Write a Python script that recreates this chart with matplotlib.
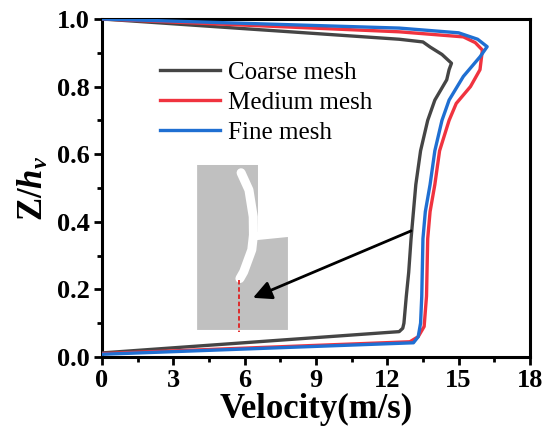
import matplotlib
matplotlib.use("Agg")
import matplotlib.pyplot as plt
from matplotlib.patches import Polygon
from matplotlib.ticker import MultipleLocator

# velocity profiles (m/s) vs normalised height Z/h_v
coarse_v = [0, 12.5, 13.5, 13.8, 14.3, 14.7, 14.6, 14.5, 14.0, 13.7, 13.4, 13.2, 13.1, 13.0, 12.9, 12.8, 12.7, 12.65, 12.5, 0]
coarse_z = [1.0, 0.94, 0.932, 0.917, 0.895, 0.869, 0.85, 0.82, 0.76, 0.70, 0.61, 0.51, 0.43, 0.35, 0.25, 0.18, 0.10, 0.085, 0.075, 0.012]

medium_v = [0, 12.5, 15.2, 15.7, 16.0, 15.9, 15.5, 14.9, 14.6, 14.2, 14.0, 13.8, 13.7, 13.65, 13.55, 13.3, 12.95, 0]
medium_z = [1.0, 0.962, 0.947, 0.93, 0.908, 0.85, 0.80, 0.75, 0.70, 0.61, 0.51, 0.43, 0.35, 0.18, 0.09, 0.06, 0.045, 0.01]

fine_v = [0, 12.5, 15.0, 15.8, 16.2, 15.9, 15.2, 14.6, 14.3, 14.0, 13.8, 13.6, 13.5, 13.45, 13.4, 13.3, 13.1, 0]
fine_z = [1.0, 0.973, 0.959, 0.94, 0.918, 0.888, 0.83, 0.76, 0.70, 0.61, 0.51, 0.43, 0.35, 0.18, 0.10, 0.06, 0.042, 0.008]

labels = ["Coarse mesh", "Medium mesh", "Fine mesh"]
colors = ["#454545", "#f0333f", "#1f6fd2"]

plt.rcParams["font.family"] = ["Liberation Serif", "DejaVu Serif"]
plt.rcParams["mathtext.fontset"] = "custom"
plt.rcParams["mathtext.rm"] = "Liberation Serif:bold"
plt.rcParams["mathtext.it"] = "Liberation Serif:bold:italic"
plt.rcParams["mathtext.bf"] = "Liberation Serif:bold"

fig = plt.figure(figsize=(5.5, 4.45), dpi=100)
ax = fig.add_axes([0.1855, 0.1978, 0.778, 0.7596])

# inset sketch of the vegetation sample (grey block, white blade, red probe line)
sketch = Polygon([(4.0, 0.08), (7.82, 0.08), (7.82, 0.355), (6.40, 0.345), (6.40, 0.37),
                  (6.56, 0.37), (6.56, 0.568), (4.0, 0.568)],
                 closed=True, facecolor="#c0c0c0", edgecolor="none", zorder=1)
ax.add_patch(sketch)
blade_x = [5.85, 6.18, 6.36, 6.37, 6.30, 5.96, 5.80]
blade_z = [0.545, 0.494, 0.415, 0.361, 0.317, 0.252, 0.232]
ax.plot(blade_x, blade_z, color="white", lw=6.5, solid_capstyle="round", zorder=2)
ax.plot([5.76, 5.76], [0.228, 0.075], color="#e02020", lw=1.3, ls=(0, (2.5, 1.5)), zorder=2)

for v, z, lab, c in zip([coarse_v, medium_v, fine_v], [coarse_z, medium_z, fine_z], labels, colors):
    ax.plot(v, z, color=c, lw=2.4, label=lab, zorder=3)

ax.annotate("", xy=(6.35, 0.175), xytext=(13.0, 0.373),
            arrowprops=dict(arrowstyle="-|>", color="black", lw=2.0, mutation_scale=28,
                            shrinkA=0, shrinkB=0), zorder=4)

ax.set_xlim(0, 18)
ax.set_ylim(0, 1.0)
ax.xaxis.set_major_locator(MultipleLocator(3))
ax.xaxis.set_minor_locator(MultipleLocator(1.5))
ax.yaxis.set_major_locator(MultipleLocator(0.2))
ax.yaxis.set_minor_locator(MultipleLocator(0.1))
ax.yaxis.set_major_formatter(matplotlib.ticker.FormatStrFormatter("%.1f"))
ax.tick_params(which="major", direction="out", length=6, width=2, labelsize=19, pad=3)
ax.tick_params(which="minor", direction="out", length=3.5, width=2)
for lbl in ax.get_xticklabels() + ax.get_yticklabels():
    lbl.set_fontweight("bold")
for s in ax.spines.values():
    s.set_linewidth(2.2)

ax.set_xlabel("Velocity(m/s)", fontsize=25, fontweight="bold", labelpad=0)
ax.set_ylabel(r"$\mathrm{Z/}h_v$", fontsize=25, labelpad=4)

ax.legend(loc="upper left", bbox_to_anchor=(0.136, 0.875), frameon=False, fontsize=18,
          handlelength=2.4, handletextpad=0.3, labelspacing=0.3, borderpad=0, borderaxespad=0)

fig.savefig("out.png", dpi=100)
